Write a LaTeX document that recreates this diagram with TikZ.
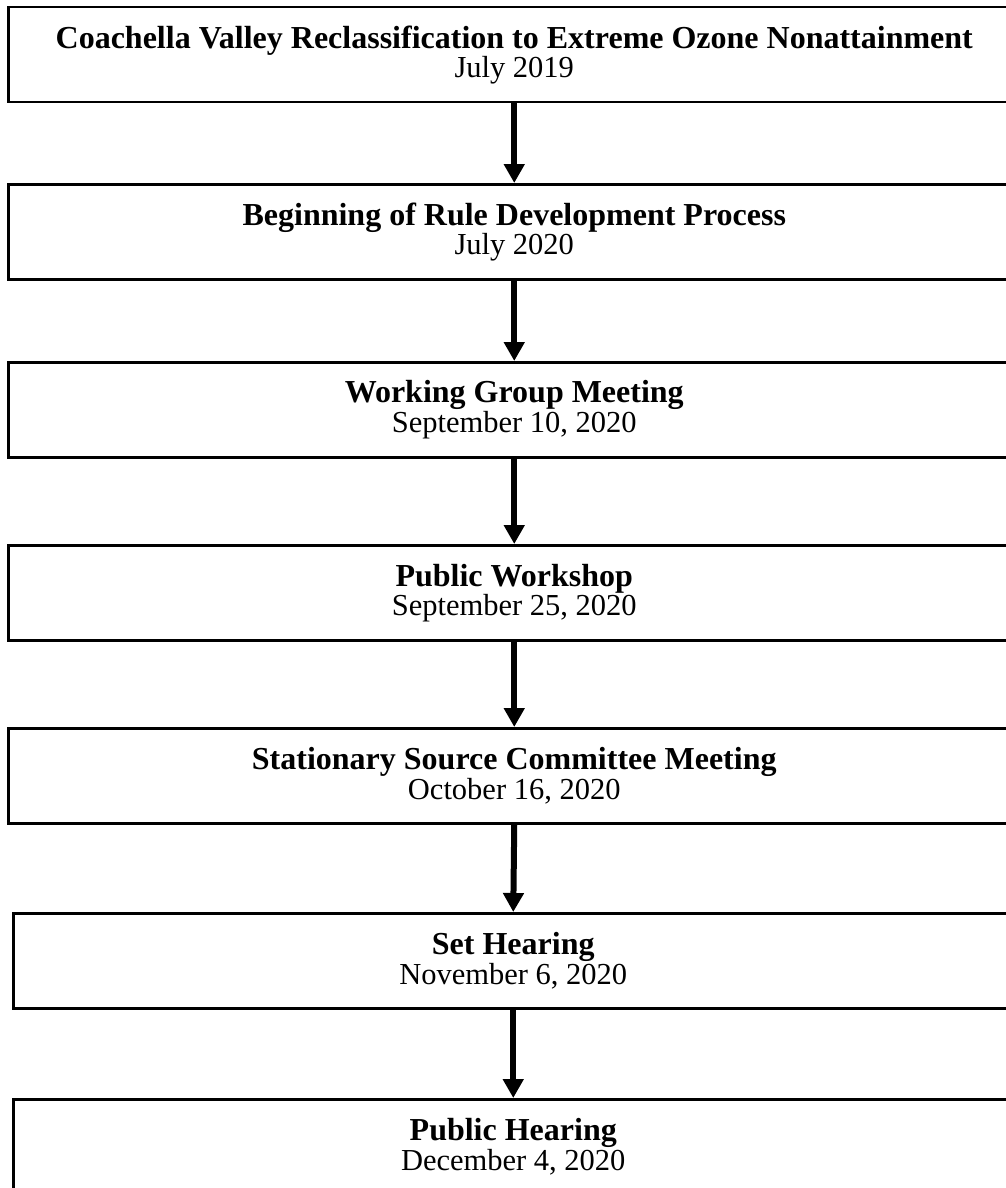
\documentclass[tikz,border=0pt]{standalone}
\usepackage{fontspec}
\setmainfont{Liberation Serif}
\usepackage{tikz}
\usetikzlibrary{positioning, arrows.meta}

\newcommand{\stagename}[1]{{\fontsize{32}{34}\selectfont\bfseries #1}}
\newcommand{\stagedate}[1]{{\fontsize{30.5}{33}\selectfont #1}}

\begin{document}
\begin{tikzpicture}[
    x = 1pt, y = -1pt,
    stage/.style = {rectangle, draw, line width=2.5pt, anchor=north west, align=center,
                    minimum width=1012pt, minimum height=95pt, inner sep=0pt},
    latestage/.style = {stage, minimum width=1000pt},
    flow/.style = {line width=6pt, -{Triangle[width=20pt, length=19pt]}}
]
    \useasboundingbox (0,0) rectangle (1006,1188);

% Stages
    \node[stage] (reclass) at (7,6) {\stagename{Coachella Valley Reclassification to Extreme Ozone Nonattainment}\\ \stagedate{July 2019}};
    \node[stage] (rulestart) at (7,183) {\stagename{Beginning of Rule Development Process}\\ \stagedate{July 2020}};
    \node[stage] (workgroup) at (7,361) {\stagename{Working Group Meeting}\\ \stagedate{September 10, 2020}};
    \node[stage] (workshop) at (7,544) {\stagename{Public Workshop}\\ \stagedate{September 25, 2020}};
    \node[stage] (ssc) at (7,727) {\stagename{Stationary Source Committee Meeting}\\ \stagedate{October 16, 2020}};
    \node[latestage] (sethearing) at (12,912) {\stagename{Set Hearing}\\ \stagedate{November 6, 2020}};
    \node[latestage] (pubhearing) at (12,1098) {\stagename{Public Hearing}\\ \stagedate{December 4, 2020}};

% Arrows
    \draw[flow] (reclass.south) -- (rulestart.north);
    \draw[flow] (rulestart.south) -- (workgroup.north);
    \draw[flow] (workgroup.south) -- (workshop.north);
    \draw[flow] (workshop.south) -- (ssc.north);
    \draw[flow] (ssc.south) -- (sethearing.north);
    \draw[flow] (sethearing.south) -- (pubhearing.north);
\end{tikzpicture}
\end{document}
